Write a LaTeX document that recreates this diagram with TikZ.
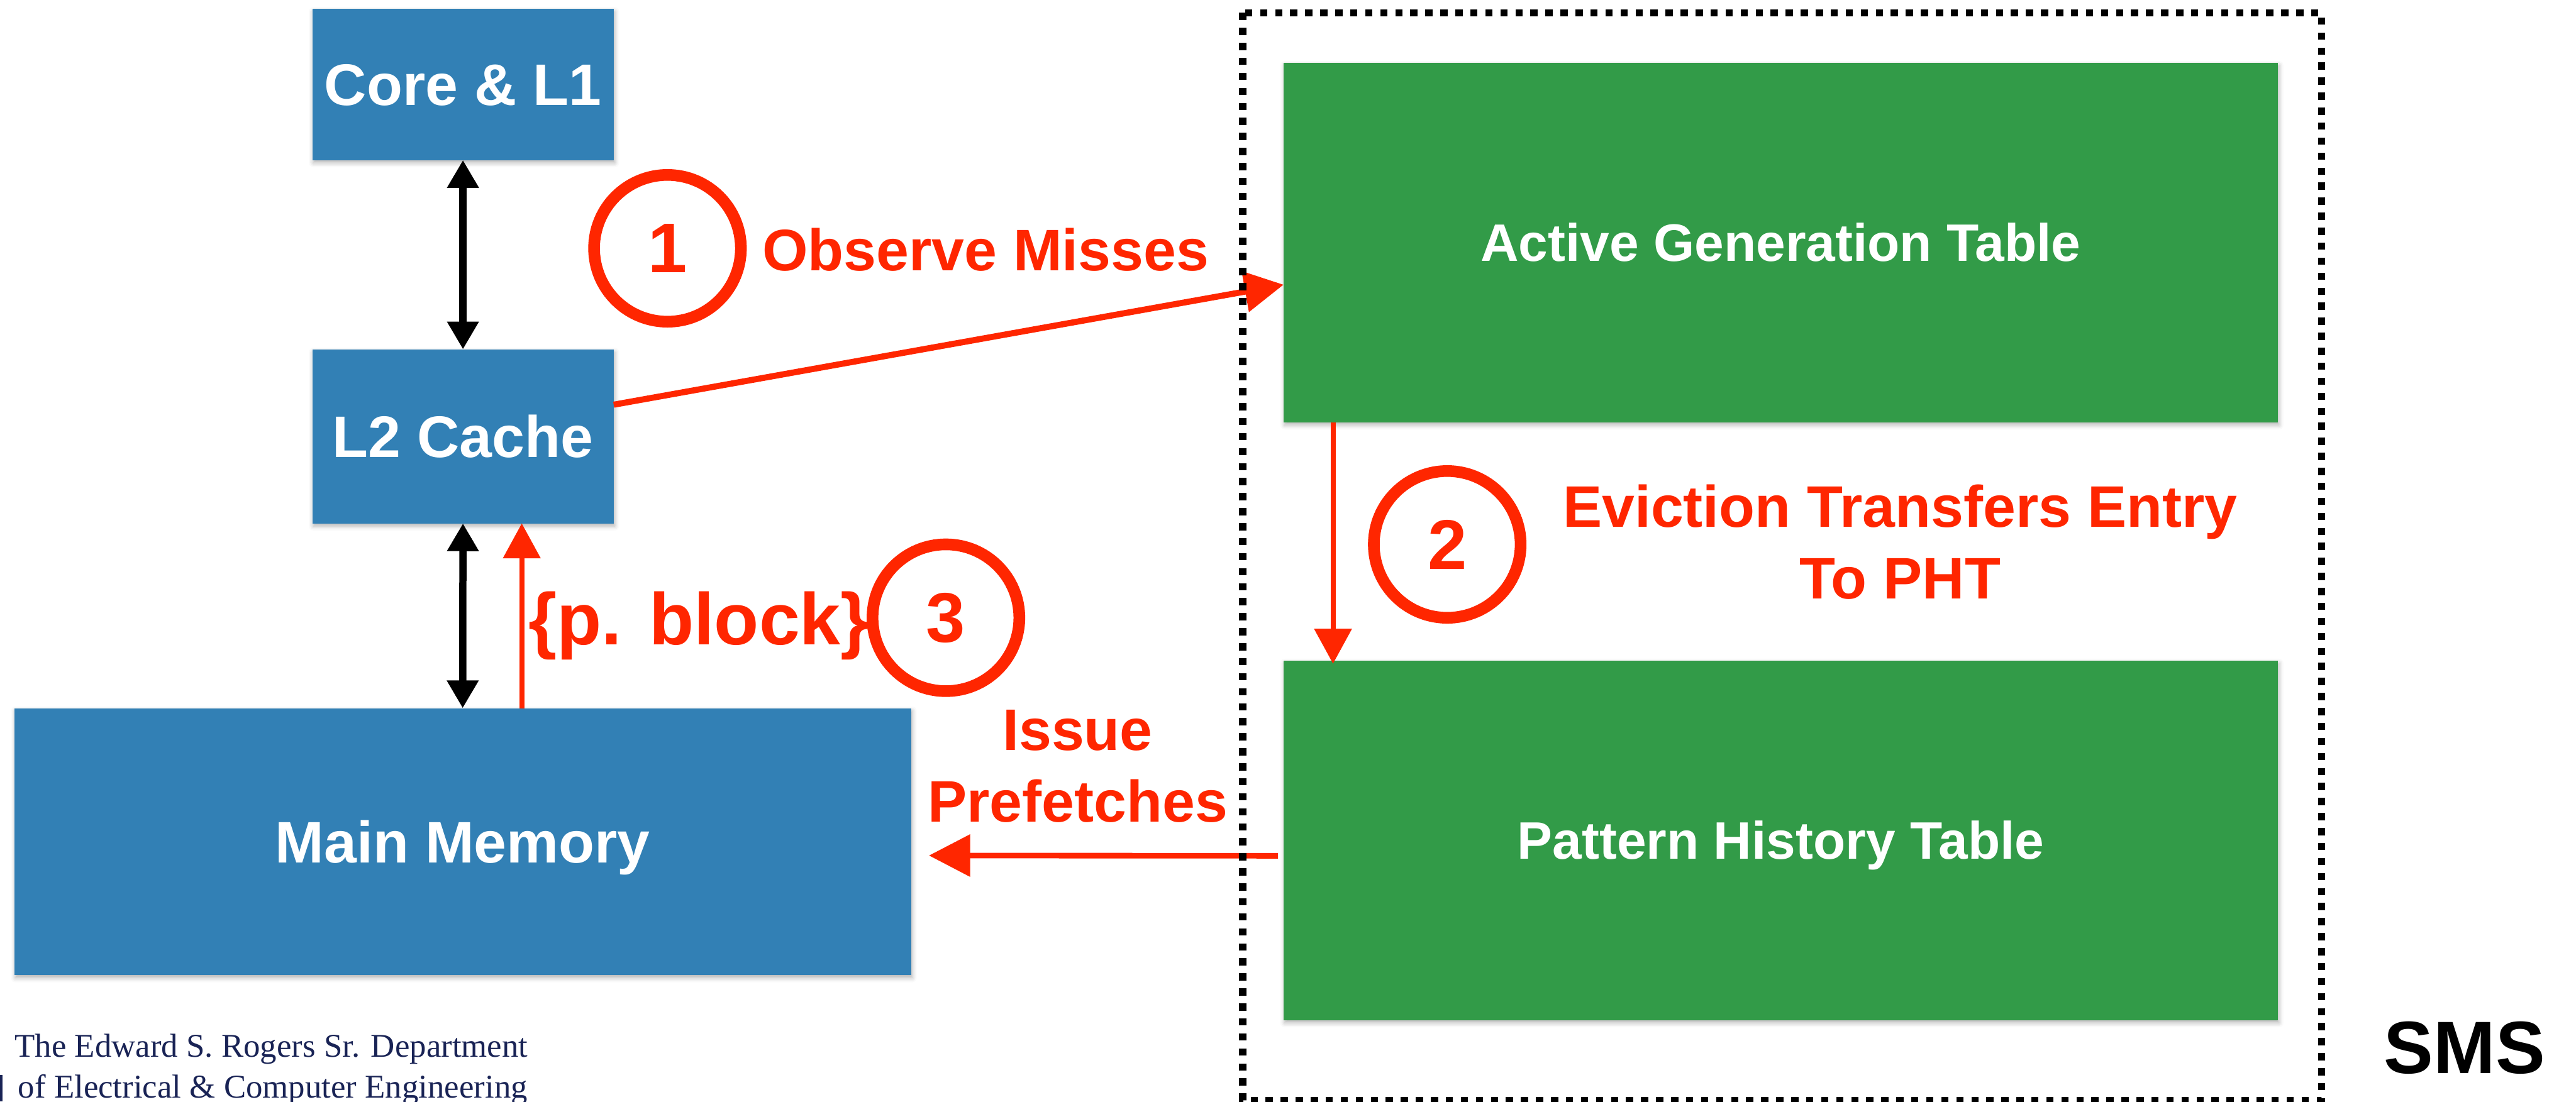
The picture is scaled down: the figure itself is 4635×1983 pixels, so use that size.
\documentclass[tikz,border=0pt]{standalone}
\usepackage{fontspec}
\setmainfont{Liberation Sans}
\newfontfamily\deptfont{Liberation Serif}
\usetikzlibrary{arrows.meta,calc,shadows.blur}
\definecolor{boxblue}{RGB}{50,128,181}
\definecolor{boxgreen}{RGB}{50,155,72}
\definecolor{flowred}{RGB}{255,38,0}
\definecolor{deptnavy}{RGB}{25,35,85}
\begin{document}
\begin{tikzpicture}[x=0.01cm,y=-0.01cm,
  unit/.style={inner sep=0pt, outer sep=0pt, text=white,
    font=\fontsize{30}{36}\selectfont\bfseries, text height=21.5pt, text depth=0pt,
    blur shadow={shadow xshift=0.02cm, shadow yshift=-0.05cm,
      shadow blur radius=0.08cm, shadow opacity=30}},
  bluebox/.style={unit, fill=boxblue},
  greenbox/.style={unit, fill=boxgreen,
    font=\fontsize{27}{32}\selectfont\bfseries, text height=19.3pt},
  stepmark/.style={circle, draw=flowred, line width=0.21cm, minimum size=2.64cm,
    inner sep=0pt, text=flowred, font=\fontsize{36}{40}\selectfont\bfseries},
  redlabel/.style={text=flowred, font=\fontsize{30}{36.7}\selectfont\bfseries,
    inner sep=0pt, align=center},
  bus/.style={line width=0.13cm,
    {Triangle[length=0.5cm,width=0.54cm]}-{Triangle[length=0.5cm,width=0.54cm]}},
  flow/.style={draw=flowred, line width=0.11cm,
    -{Triangle[length=0.7cm,width=0.72cm]}},
  thinflow/.style={draw=flowred, line width=0.09cm,
    -{Triangle[length=0.63cm,width=0.66cm]}},
  dept/.style={text=deptnavy, inner sep=0pt, anchor=base west,
    font=\deptfont\fontsize{17}{20.8}\selectfont}
]
\useasboundingbox (0,0) rectangle (4635,1983);

% memory hierarchy
\node[bluebox, minimum width=5.42cm, minimum height=2.72cm] (core) at (833,152) {Core \& L1};
\node[bluebox, minimum width=5.42cm, minimum height=3.13cm] (l2) at (833,785.5) {L2 Cache};
\node[bluebox, minimum width=16.13cm, minimum height=4.80cm] (mm) at (832.5,1515) {Main Memory};

% SMS tables
\node[greenbox, minimum width=17.88cm, minimum height=6.47cm] (agt) at (3204,436.5) {Active Generation Table};
\node[greenbox, minimum width=17.88cm, minimum height=6.47cm] (pht) at (3204,1512.5) {Pattern History Table};

% hierarchy buses
\draw[bus] (core.south) -- (l2.north);
\draw[bus] (l2.south) -- (mm.north);

% step 1: observe misses
\draw[flow] ($(l2.east)+(0,-57)$) -- ($(agt.west)+(0,76)$);
\node[stepmark] (s1) at (1201,447) {1};
\node[redlabel, anchor=base west] (obs) at (1371,487) {Observe Misses};

% step 2: eviction to PHT
\draw[thinflow] ($(agt.south west)+(89,0)$) -- ($(pht.north west)+(89,6)$);
\node[stepmark] (s2) at (2604,980) {2};
\node[redlabel] (evict) at (3419,976) {Eviction Transfers Entry\\To PHT};

% step 3: prefetch
\draw[draw=flowred, line width=0.1cm, -{Triangle[length=0.74cm,width=0.74cm]}]
  ($(pht.west)+(-10,28)$) -- ($(mm.east)+(32,25)$);
\node[redlabel] (issue) at (1939,1379) {Issue\\Prefetches};
\coordinate (upx) at ($(l2.south west)+(377,0)$);
\draw[thinflow] (mm.north -| upx) -- (upx);
\node[redlabel, anchor=base west, font=\fontsize{37.5}{40}\selectfont\bfseries] (pblock) at (950,1161) {\{p. block\}};
\node[stepmark] (s3) at (1702,1112) {3};

% SMS frame
\draw[line width=0.13cm, dash pattern=on 0.13cm off 0.14cm] (2236,23) rectangle (4177,1981);
\node[anchor=base west, inner sep=0pt, font=\fontsize{38}{40}\selectfont\bfseries] (sms) at (4289,1932) {SMS};

% department footer
\fill[deptnavy] (0,1935) rectangle (4,1983);
\node[dept] (dept1) at (26,1903) {The Edward S. Rogers Sr. Department};
\node[dept] (dept2) at (32,1976) {of Electrical \& Computer Engineering};
\end{tikzpicture}
\end{document}
